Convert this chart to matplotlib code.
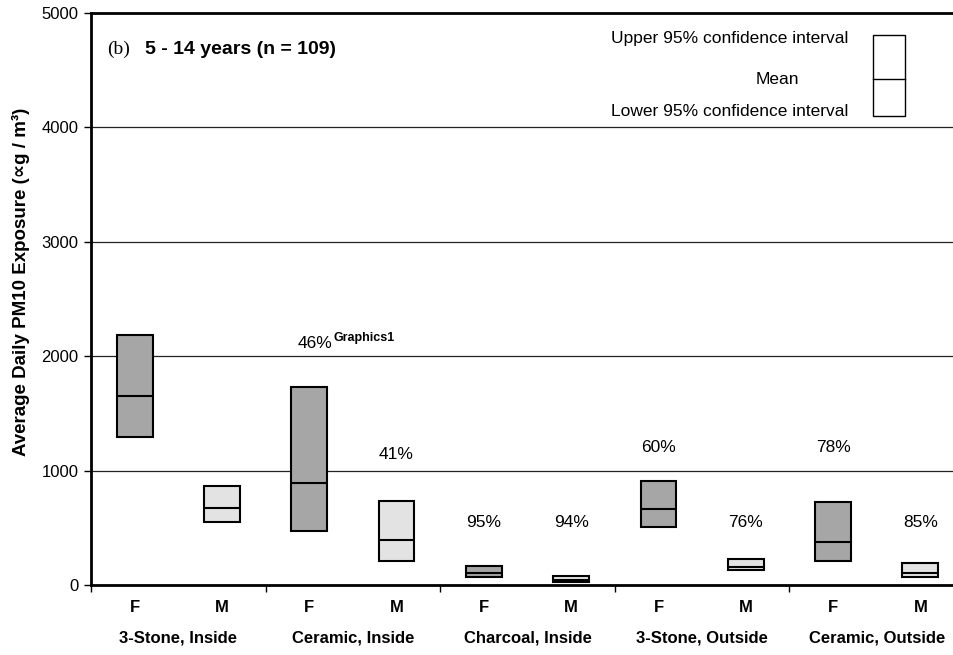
import matplotlib
matplotlib.use("Agg")
import matplotlib.pyplot as plt
from matplotlib.patches import Rectangle

plt.rcParams['font.family'] = ['Liberation Sans', 'DejaVu Sans']

# Stove/location groups and the sex of the child within each group
groups = ["3-Stone, Inside", "Ceramic, Inside", "Charcoal, Inside",
          "3-Stone, Outside", "Ceramic, Outside"]
sexes = ["F", "M"]

# Lower 95% CI, mean, upper 95% CI (µg/m³), order: F, M per group
lower = [1295, 550, 470, 210, 70, 25, 505, 130, 210, 70]
mean = [1655, 675, 893, 395, 105, 45, 665, 157, 378, 105]
upper = [2185, 865, 1735, 735, 166, 80, 910, 228, 726, 192]

# Percentage annotations: (bar index, label, height)
pct_idx = [2, 3, 4, 5, 6, 7, 8, 9]
pct_text = ["46%", "41%", "95%", "94%", "60%", "76%", "78%", "85%"]
pct_y = [2115, 1140, 550, 550, 1200, 550, 1200, 550]

fill_colors = {"F": "#a6a6a6", "M": "#e3e3e3"}

fig = plt.figure(figsize=(9.54, 6.55), dpi=100)
ax = fig.add_axes([91 / 954, 1 - 585 / 655, 1 - 91 / 954, (585 - 13) / 655])

ax.set_ylim(0, 5000)
ax.set_xlim(0, 863 / 87.3)

ax.set_yticks([0, 1000, 2000, 3000, 4000, 5000])
ax.tick_params(axis='y', direction='out', length=5, width=1, labelsize=12, pad=4)
for yv in [1000, 2000, 3000, 4000]:
    ax.axhline(yv, color='#222222', lw=0.9, zorder=0)

ax.set_xticks([0, 2, 4, 6, 8])
ax.set_xticklabels([])
ax.tick_params(axis='x', direction='out', length=5, width=1)

for side in ['left', 'bottom', 'top']:
    ax.spines[side].set_linewidth(2)
ax.spines['right'].set_visible(False)

bw = 0.41
for i in range(len(mean)):
    sex = sexes[i % 2]
    xc = i + 0.5
    ax.add_patch(Rectangle((xc - bw / 2, lower[i]), bw, upper[i] - lower[i],
                           facecolor=fill_colors[sex], edgecolor='black',
                           lw=1.5, zorder=3))
    ax.plot([xc - bw / 2, xc + bw / 2], [mean[i], mean[i]], color='black',
            lw=1.5, zorder=4, solid_capstyle='butt')
    ax.text(xc, -0.04, sex, transform=ax.get_xaxis_transform(), ha='center',
            va='center', fontsize=12, fontweight='bold')

for g, name in enumerate(groups):
    ax.text(2 * g + 1, -0.093, name, transform=ax.get_xaxis_transform(),
            ha='center', va='center', fontsize=12, fontweight='bold')

for idx, txt, yv in zip(pct_idx, pct_text, pct_y):
    dx = 4.5 if idx == 2 else 0
    ax.annotate(txt, xy=(idx + 0.5, yv), xytext=(dx, 0), textcoords='offset points',
                ha='center', va='center', fontsize=12.5)
# superscript following the first percentage label
ax.annotate("Graphics1", xy=(2.5, 2115), xytext=(17.5, 3.5), textcoords='offset points',
            ha='left', va='center', fontsize=9, fontweight='bold')

ax.set_ylabel("Average Daily PM10 Exposure (\u221dg / m\u00b3)", fontsize=13.5,
              fontweight='bold')
ax.yaxis.set_label_coords(-0.071, 0.53)

# Panel title
fig.text(107 / 954, 1 - 49 / 655, "(b)", family=['Liberation Serif'],
         fontsize=14, va='center', ha='left')
fig.text(145 / 954, 1 - 49 / 655, "5 - 14 years (n = 109)", fontsize=14,
         fontweight='bold', va='center', ha='left')

# Key explaining the box elements
kx0, kx1 = 873 / 954, 905 / 954
ky0, ky1, kym = 1 - 116 / 655, 1 - 35 / 655, 1 - 79 / 655
fig.patches.append(Rectangle((kx0, ky0), kx1 - kx0, ky1 - ky0, transform=fig.transFigure,
                             facecolor='white', edgecolor='black', lw=1, zorder=5))
fig.lines.append(plt.Line2D([kx0, kx1], [kym, kym], transform=fig.transFigure,
                            color='black', lw=1, zorder=6))
fig.text(848 / 954, 1 - 38 / 655, "Upper 95% confidence interval", fontsize=12.5,
         ha='right', va='center')
fig.text(799 / 954, 1 - 80 / 655, "Mean", fontsize=12.5, ha='right', va='center')
fig.text(848 / 954, 1 - 111 / 655, "Lower 95% confidence interval", fontsize=12.5,
         ha='right', va='center')

fig.savefig("out.png", dpi=100)
